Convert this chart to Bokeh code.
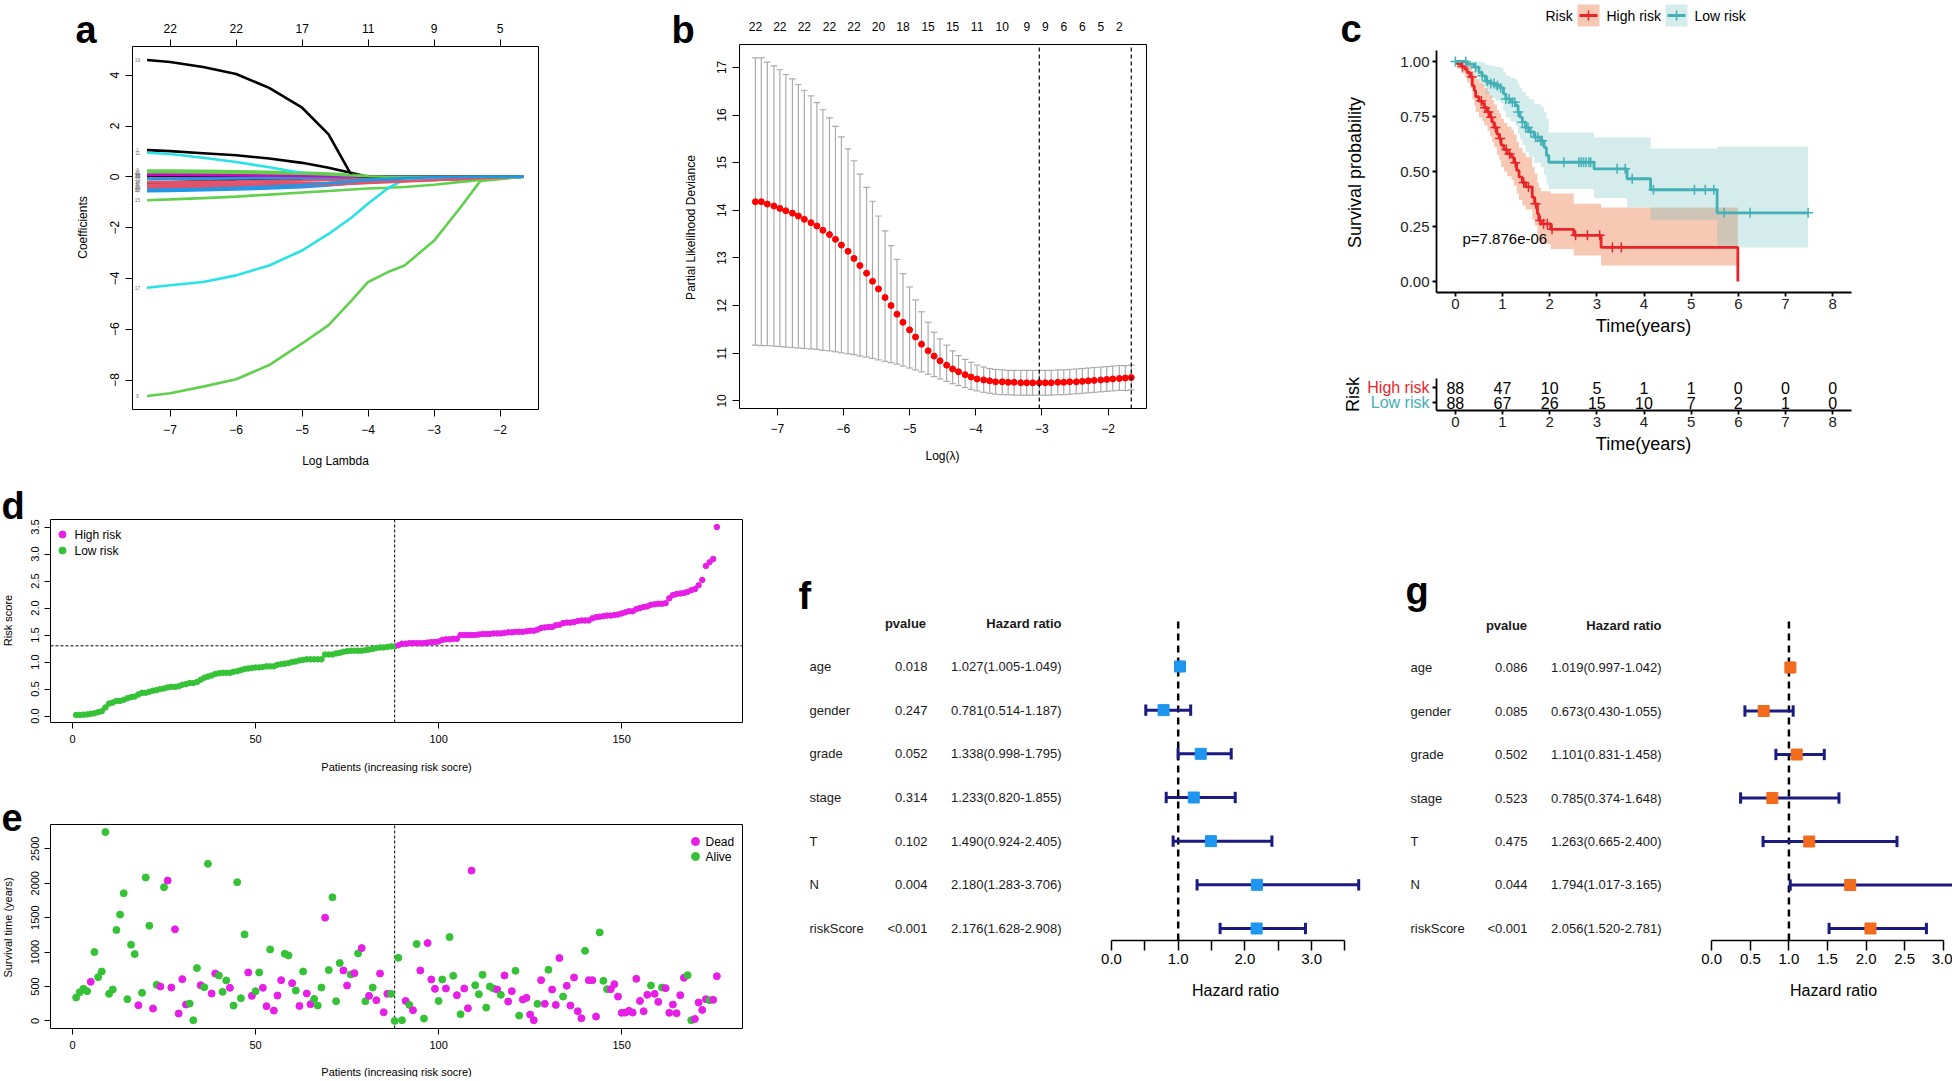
import math
import numpy as np
from bokeh.plotting import figure
from bokeh.layouts import row, column
from bokeh.models import (Range1d, LinearAxis, FixedTicker, Label,
                          PrintfTickFormatter, CustomJSTickFormatter)
from bokeh.core.properties import value
from bokeh.embed import file_html
from bokeh.resources import INLINE

FONT = "Liberation Sans"

# ======================= DATA =======================
# (a) LASSO coefficient paths (log lambda grid, one list per variable)
a_loglam = [-7.35, -7.0, -6.5, -6.0, -5.5, -5.0, -4.6, -4.25, -4.0, -3.7, -3.45, -3.0, -2.6, -2.3, -1.64]
coef_v01 = [1.05, 1.01, 0.93, 0.85, 0.72, 0.55, 0.36, 0.15, 0.0, -0.05, -0.06, -0.05, -0.03, -0.02, 0.0]
coef_v02 = [-0.38, -0.37, -0.36, -0.34, -0.32, -0.29, -0.26, -0.23, -0.20, -0.17, -0.14, -0.10, -0.07, -0.05, 0.0]
coef_v03 = [0.25, 0.25, 0.24, 0.22, 0.20, 0.17, 0.13, 0.08, 0.03, 0.01, 0.0, 0.0, 0.0, 0.0, 0.0]
coef_v04 = [-0.57, -0.56, -0.53, -0.50, -0.46, -0.41, -0.34, -0.26, -0.20, -0.15, -0.11, -0.06, -0.03, -0.02, 0.0]
coef_v05 = [0.05, 0.05, 0.04, 0.03, 0.02, 0.01, 0.0, 0.0, 0.0, 0.0, 0.0, 0.0, 0.0, 0.0, 0.0]
coef_v06 = [0.12, 0.11, 0.10, 0.09, 0.07, 0.05, 0.03, 0.01, 0.0, 0.0, 0.0, 0.0, 0.0, 0.0, 0.0]
coef_v07 = [-0.25, -0.22, -0.17, -0.12, -0.09, -0.07, -0.06, -0.07, -0.08, -0.09, -0.10, -0.10, -0.08, -0.05, 0.0]
coef_v08 = [-0.30, -0.29, -0.28, -0.27, -0.26, -0.25, -0.24, -0.22, -0.20, -0.18, -0.16, -0.12, -0.08, -0.05, 0.0]
coef_v09 = [-8.63, -8.52, -8.26, -7.97, -7.41, -6.56, -5.84, -4.86, -4.14, -3.75, -3.49, -2.51, -1.20, -0.16, 0.0]
coef_v10 = [-0.45, -0.44, -0.42, -0.40, -0.37, -0.34, -0.30, -0.26, -0.22, -0.18, -0.14, -0.08, -0.04, -0.02, 0.0]
coef_v11 = [0.95, 0.90, 0.75, 0.58, 0.38, 0.15, 0.04, 0.0, 0.0, 0.0, 0.0, 0.0, 0.0, 0.0, 0.0]
coef_v12 = [0.02, 0.02, 0.02, 0.01, 0.01, 0.0, 0.0, 0.0, 0.0, 0.0, 0.0, 0.0, 0.0, 0.0, 0.0]
coef_v13 = [0.03, 0.03, 0.02, 0.02, 0.01, 0.0, 0.0, 0.0, 0.0, 0.0, 0.0, 0.0, 0.0, 0.0, 0.0]
coef_v14 = [-0.20, -0.20, -0.19, -0.18, -0.16, -0.14, -0.12, -0.10, -0.08, -0.06, -0.04, -0.02, 0.0, 0.0, 0.0]
coef_v15 = [-0.92, -0.89, -0.84, -0.78, -0.70, -0.62, -0.56, -0.50, -0.46, -0.43, -0.40, -0.31, -0.20, -0.12, 0.0]
coef_v16 = [-0.08, -0.08, -0.07, -0.06, -0.05, -0.04, -0.03, -0.02, -0.01, 0.0, 0.0, 0.0, 0.0, 0.0, 0.0]
coef_v17 = [-4.37, -4.27, -4.14, -3.88, -3.49, -2.90, -2.25, -1.60, -1.05, -0.45, -0.10, -0.06, -0.04, -0.03, 0.0]
coef_v18 = [0.07, 0.07, 0.06, 0.05, 0.04, 0.03, 0.02, 0.01, 0.0, 0.0, 0.0, 0.0, 0.0, 0.0, 0.0]
coef_v19 = [4.60, 4.52, 4.32, 4.05, 3.50, 2.72, 1.67, 0.05, 0.0, 0.0, 0.0, 0.0, 0.0, 0.0, 0.0]
coef_v20 = [-0.42, -0.41, -0.40, -0.38, -0.36, -0.33, -0.30, -0.27, -0.24, -0.21, -0.18, -0.13, -0.08, -0.05, 0.0]
coef_v21 = [0.18, 0.18, 0.17, 0.16, 0.14, 0.12, 0.09, 0.05, 0.02, 0.0, 0.0, 0.0, 0.0, 0.0, 0.0]
coef_v22 = [-0.52, -0.50, -0.47, -0.43, -0.38, -0.32, -0.25, -0.18, -0.12, -0.08, -0.05, -0.02, -0.01, 0.0, 0.0]
a_paths = [coef_v01, coef_v02, coef_v03, coef_v04, coef_v05, coef_v06, coef_v07, coef_v08,
           coef_v09, coef_v10, coef_v11, coef_v12, coef_v13, coef_v14, coef_v15, coef_v16,
           coef_v17, coef_v18, coef_v19, coef_v20, coef_v21, coef_v22]
a_top_ticks = [-7, -6, -5, -4, -3, -2]
a_top_labels = ["22", "22", "17", "11", "9", "5"]
a_bottom_ticks = [-7, -6, -5, -4, -3, -2]
a_left_ticks = [-8, -6, -4, -2, 0, 2, 4]

# (b) cross-validation curve
b_loglam = [-7.33, -7.24, -7.15, -7.05, -6.96, -6.87, -6.77, -6.68, -6.59, -6.49,
            -6.40, -6.31, -6.21, -6.12, -6.03, -5.93, -5.84, -5.75, -5.65, -5.56,
            -5.47, -5.37, -5.28, -5.19, -5.10, -5.00, -4.91, -4.82, -4.72, -4.63,
            -4.54, -4.44, -4.35, -4.26, -4.16, -4.07, -3.98, -3.88, -3.79, -3.70,
            -3.60, -3.51, -3.42, -3.32, -3.23, -3.14, -3.04, -2.95, -2.86, -2.76,
            -2.67, -2.58, -2.48, -2.39, -2.30, -2.21, -2.11, -2.02, -1.93, -1.83,
            -1.74, -1.65]
b_cvm = [14.18, 14.18, 14.13, 14.09, 14.04, 13.99, 13.94, 13.88, 13.81, 13.74,
         13.67, 13.58, 13.49, 13.39, 13.27, 13.14, 12.99, 12.84, 12.68, 12.51,
         12.35, 12.17, 12.00, 11.82, 11.65, 11.49, 11.34, 11.19, 11.05, 10.94,
         10.84, 10.75, 10.67, 10.61, 10.55, 10.50, 10.46, 10.44, 10.42, 10.40,
         10.40, 10.39, 10.39, 10.38, 10.38, 10.38, 10.38, 10.38, 10.38, 10.39,
         10.39, 10.40, 10.40, 10.41, 10.42, 10.43, 10.44, 10.45, 10.46, 10.47,
         10.48, 10.49]
b_cvup = [17.20, 17.20, 17.11, 17.03, 16.95, 16.85, 16.76, 16.64, 16.52, 16.40,
          16.26, 16.11, 15.94, 15.76, 15.54, 15.29, 15.04, 14.76, 14.48, 14.19,
          13.88, 13.57, 13.26, 12.97, 12.67, 12.39, 12.12, 11.87, 11.65, 11.44,
          11.30, 11.17, 11.05, 10.95, 10.87, 10.81, 10.75, 10.71, 10.68, 10.66,
          10.65, 10.64, 10.64, 10.64, 10.64, 10.64, 10.64, 10.64, 10.64, 10.65,
          10.65, 10.66, 10.67, 10.68, 10.69, 10.70, 10.71, 10.72, 10.73, 10.74,
          10.74, 10.75]
b_cvlo = [11.17, 11.16, 11.16, 11.15, 11.14, 11.13, 11.12, 11.11, 11.10, 11.09,
          11.08, 11.06, 11.05, 11.03, 11.01, 10.99, 10.97, 10.94, 10.92, 10.89,
          10.86, 10.83, 10.80, 10.77, 10.73, 10.69, 10.65, 10.61, 10.56, 10.51,
          10.46, 10.41, 10.36, 10.32, 10.28, 10.24, 10.21, 10.18, 10.16, 10.14,
          10.13, 10.13, 10.12, 10.12, 10.12, 10.12, 10.12, 10.12, 10.12, 10.13,
          10.13, 10.14, 10.15, 10.16, 10.17, 10.18, 10.19, 10.20, 10.21, 10.22,
          10.22, 10.23]
b_lambda_min = -3.04
b_lambda_1se = -1.65
b_top_index = [0, 4, 8, 12, 16, 20, 24, 28, 32, 36, 40, 44, 47, 50, 53, 56, 59]
b_top_labels = ["22", "22", "22", "22", "22", "20", "18", "15", "15", "11", "10", "9", "9", "6", "6", "5", "2"]
b_bottom_ticks = [-7, -6, -5, -4, -3, -2]
b_left_ticks = [10, 11, 12, 13, 14, 15, 16, 17]

# (c) Kaplan-Meier
hr_t = [0.0, 0.04, 0.13, 0.20, 0.25, 0.31, 0.36, 0.40, 0.43, 0.50, 0.57, 0.61, 0.68, 0.73, 0.78, 0.82,
        0.88, 0.93, 0.97, 1.03, 1.10, 1.19, 1.24, 1.30, 1.35, 1.42, 1.49, 1.63, 1.68, 1.74, 1.77, 1.82,
        2.02, 2.51, 3.09, 5.99]
hr_s = [1.0, 0.989, 0.977, 0.966, 0.95, 0.93, 0.89, 0.868, 0.84, 0.82, 0.81, 0.79, 0.77, 0.747, 0.724, 0.70,
        0.67, 0.65, 0.62, 0.60, 0.58, 0.565, 0.54, 0.505, 0.474, 0.45, 0.43, 0.383, 0.353, 0.308, 0.277, 0.262,
        0.237, 0.21, 0.155, 0.0]
hr_up = [1.0, 1.0, 1.0, 1.0, 0.997, 0.985, 0.957, 0.94, 0.92, 0.905, 0.895, 0.88, 0.862, 0.845, 0.825, 0.805,
         0.78, 0.765, 0.74, 0.72, 0.705, 0.69, 0.668, 0.635, 0.607, 0.585, 0.565, 0.52, 0.49, 0.45, 0.425, 0.41,
         0.40, 0.353, 0.336, 0.336]
hr_lo = [1.0, 0.967, 0.946, 0.93, 0.905, 0.878, 0.828, 0.80, 0.77, 0.745, 0.73, 0.71, 0.685, 0.66, 0.635, 0.61,
         0.575, 0.553, 0.52, 0.50, 0.478, 0.462, 0.436, 0.40, 0.37, 0.346, 0.327, 0.282, 0.255, 0.212, 0.185, 0.17,
         0.148, 0.118, 0.073, 0.073]
hr_cens = [0.15, 0.35, 0.55, 0.63, 0.70, 0.76, 0.85, 0.95, 1.08, 1.15, 1.27, 1.45, 1.55, 1.70, 1.80, 1.87,
           1.95, 2.05, 2.55, 2.80, 3.06, 3.33, 3.52]
lr_t = [0.0, 0.25, 0.40, 0.50, 0.57, 0.64, 0.75, 0.85, 0.96, 1.02, 1.07, 1.17, 1.28, 1.33, 1.37, 1.42,
        1.49, 1.56, 1.67, 1.81, 1.88, 1.93, 1.98, 2.94, 3.64, 4.14, 5.55, 7.48]
lr_s = [1.0, 0.988, 0.974, 0.95, 0.935, 0.91, 0.90, 0.89, 0.88, 0.853, 0.83, 0.815, 0.80, 0.77, 0.747, 0.724,
        0.70, 0.68, 0.656, 0.64, 0.61, 0.573, 0.542, 0.512, 0.467, 0.417, 0.312, 0.312]
lr_up = [1.0, 1.0, 1.0, 1.0, 0.995, 0.985, 0.98, 0.975, 0.97, 0.952, 0.935, 0.925, 0.915, 0.895, 0.878, 0.86,
         0.842, 0.828, 0.808, 0.795, 0.77, 0.74, 0.677, 0.655, 0.655, 0.604, 0.614, 0.614]
lr_lo = [1.0, 0.966, 0.94, 0.905, 0.885, 0.85, 0.835, 0.822, 0.81, 0.775, 0.745, 0.727, 0.708, 0.672, 0.647, 0.62,
         0.59, 0.567, 0.54, 0.52, 0.485, 0.445, 0.42, 0.38, 0.336, 0.28, 0.155, 0.155]
lr_cens = [0.0, 0.22, 0.43, 0.57, 0.68, 0.75, 0.82, 0.89, 0.96, 1.07, 1.14, 1.21, 1.26, 1.33, 1.42, 1.49,
           1.54, 1.60, 1.70, 1.75, 1.81, 1.84, 2.30, 2.62, 2.67, 2.72, 2.77, 2.83, 2.87, 3.43, 3.60, 3.75,
           4.20, 5.07, 5.30, 5.48, 5.70, 6.25, 7.48]
c_pvalue = "p=7.876e-06"
risk_times = [0, 1, 2, 3, 4, 5, 6, 7, 8]
risk_high_n = [88, 47, 10, 5, 1, 1, 0, 0, 0]
risk_low_n = [88, 67, 26, 15, 10, 7, 2, 1, 0]
c_x_ticks = [0, 1, 2, 3, 4, 5, 6, 7, 8]
c_y_ticks = [0.0, 0.25, 0.5, 0.75, 1.0]

# (d) risk score per patient (sorted)
d_risk = [0.02, 0.02, 0.025, 0.03, 0.04, 0.05, 0.07, 0.09, 0.16, 0.23,
          0.25, 0.28, 0.28, 0.30, 0.33, 0.35, 0.36, 0.40, 0.43, 0.43,
          0.45, 0.47, 0.48, 0.50, 0.51, 0.53, 0.54, 0.54, 0.55, 0.58,
          0.59, 0.61, 0.61, 0.63, 0.67, 0.71, 0.73, 0.75, 0.78, 0.79,
          0.80, 0.80, 0.80, 0.82, 0.83, 0.85, 0.87, 0.88, 0.89, 0.90,
          0.90, 0.91, 0.92, 0.92, 0.92, 0.95, 0.96, 0.97, 0.98, 1.00,
          1.01, 1.03, 1.04, 1.05, 1.05, 1.05, 1.05, 1.05, 1.14, 1.14,
          1.14, 1.16, 1.17, 1.19, 1.20, 1.21, 1.21, 1.21, 1.21, 1.22,
          1.23, 1.24, 1.26, 1.27, 1.27, 1.28, 1.29, 1.29,
          1.31, 1.34, 1.34, 1.35, 1.35, 1.35, 1.35, 1.35, 1.36, 1.37, 1.37, 1.38,
          1.41, 1.42, 1.42, 1.43, 1.43, 1.50, 1.50, 1.50, 1.50, 1.50,
          1.51, 1.52, 1.52, 1.52, 1.53, 1.53, 1.53, 1.54, 1.55, 1.55,
          1.56, 1.56, 1.56, 1.57, 1.58, 1.58, 1.60, 1.63, 1.64, 1.65,
          1.65, 1.68, 1.69, 1.72, 1.73, 1.73, 1.74, 1.76, 1.77, 1.77,
          1.77, 1.81, 1.83, 1.84, 1.85, 1.86, 1.86, 1.87, 1.88, 1.90,
          1.92, 1.94, 1.94, 1.98, 2.00, 2.02, 2.03, 2.06, 2.07, 2.08,
          2.08, 2.09, 2.18, 2.24, 2.26, 2.27, 2.28, 2.30, 2.33, 2.35,
          2.42, 2.52, 2.78, 2.85, 2.91, 3.50]
d_n_low = 88
d_cutoff = 1.30
d_x_ticks = [0, 50, 100, 150]
d_y_ticks = [0.0, 0.5, 1.0, 1.5, 2.0, 2.5, 3.0, 3.5]

# (e) survival time and status per patient
e_time = [340, 417, 466, 432, 568, 1000, 636, 718, 2743, 393,
          456, 1320, 1544, 1854, 316, 1107, 971, 228, 408, 2083,
          1383, 180, 524, 500, 1942, 2039, 485, 1330, 107, 607,
          238, 252, 10, 767, 519, 490, 2282, 398, 689, 660,
          422, 587, 481, 223, 2015, 330, 1257, 704, 364, 432,
          704, 481, 214, 1039, 150, 369, 592, 976, 951, 549,
          442, 218, 718, 398, 243, 320, 223, 485, 1500, 738,
          1796, 286, 840, 733, 515, 675, 694, 981, 1058, 286,
          364, 485, 301, 689, 126, 393, 393, 0, 917, 10,
          291, 233, 155, 1117, 733, 34, 1131, 602, 466, 291,
          602, 471, 1218, 655, 374, 97, 471, 184, 2184, 519,
          388, 670, 194, 500, 471, 456, 379, 660, 282, 432,
          728, 78, 311, 335, 92, 10, 248, 592, 248, 743,
          456, 233, 913, 354, 510, 223, 631, 141, 39, 1019,
          592, 592, 63, 1286, 583, 461, 461, 534, 354, 117,
          121, 146, 121, 612, 291, 141, 379, 515, 393, 277,
          485, 476, 117, 238, 112, 374, 626, 665, 10, 29,
          267, 160, 316, 301, 306, 650]
e_dead = [0, 0, 0, 0, 1, 0, 0, 0, 0, 0,
          0, 0, 0, 0, 0, 0, 0, 1, 0, 0,
          0, 1, 0, 1, 0, 1, 1, 1, 1, 1,
          1, 0, 0, 0, 1, 0, 0, 1, 1, 0,
          0, 0, 1, 0, 0, 0, 0, 1, 1, 0,
          0, 1, 1, 0, 1, 1, 1, 0, 0, 1,
          0, 1, 0, 1, 1, 0, 0, 0, 1, 0,
          0, 0, 0, 1, 1, 0, 1, 0, 1, 0,
          1, 0, 1, 1, 1, 1, 0, 0, 0, 0,
          1, 0, 1, 0, 1, 0, 1, 1, 1, 0,
          0, 1, 0, 0, 1, 0, 1, 1, 1, 0,
          0, 0, 0, 0, 0, 1, 0, 1, 1, 1,
          0, 0, 1, 1, 1, 1, 0, 1, 1, 0,
          1, 1, 1, 0, 1, 1, 1, 1, 1, 0,
          1, 1, 1, 0, 0, 0, 1, 1, 1, 1,
          1, 1, 1, 1, 1, 1, 1, 0, 1, 1,
          0, 1, 1, 1, 1, 1, 1, 0, 0, 1,
          1, 1, 1, 0, 1, 1]
e_y_ticks = [0, 500, 1000, 1500, 2000, 2500]

# (f) univariate Cox, (g) multivariate Cox
cox_vars = ["age", "gender", "grade", "stage", "T", "N", "riskScore"]
f_p = ["0.018", "0.247", "0.052", "0.314", "0.102", "0.004", "<0.001"]
f_hr = [1.027, 0.781, 1.338, 1.233, 1.490, 2.180, 2.176]
f_lo = [1.005, 0.514, 0.998, 0.820, 0.924, 1.283, 1.628]
f_hi = [1.049, 1.187, 1.795, 1.855, 2.405, 3.706, 2.908]
g_p = ["0.086", "0.085", "0.502", "0.523", "0.475", "0.044", "<0.001"]
g_hr = [1.019, 0.673, 1.101, 0.785, 1.263, 1.794, 2.056]
g_lo = [0.997, 0.430, 0.831, 0.374, 0.665, 1.017, 1.520]
g_hi = [1.042, 1.055, 1.458, 1.648, 2.400, 3.165, 2.781]
f_axis_ticks = [0.0, 0.5, 1.0, 1.5, 2.0, 2.5, 3.0, 3.5]
g_axis_ticks = [0.0, 0.5, 1.0, 1.5, 2.0, 2.5, 3.0]

# ======================= STYLE / GEOMETRY =======================
R_PAL = ["#000000", "#DF536B", "#61D04F", "#2297E6", "#28E2E5", "#CD0BBC"]
RED = "#E8262A"
TEAL = "#43B0B5"
MAG = "#E61EE6"
GRN = "#36C236"
NAVY = "#1A1A80"
BLUE_SQ = "#1E96F0"
ORANGE_SQ = "#F26B1D"

# page-pixel geometry: figure box (x, y, w, h), plot box (left, top, right, bottom) and its data ranges
GEO = {
    "a": dict(fig=(0, 0, 608, 478), frame=(132, 46, 538, 409), xr=(-7.57, -1.42), yr=(-9.16, 5.13)),
    "b": dict(fig=(608, 0, 700, 478), frame=(739, 44, 1146, 408), xr=(-7.57, -1.42), yr=(9.84, 17.48)),
    "c1": dict(fig=(1308, 0, 644, 353), frame=(1436, 50, 1851, 292), xr=(-0.4, 8.4), yr=(-0.05, 1.05)),
    "c2": dict(fig=(1308, 353, 644, 125), frame=(1436, 378, 1851, 410), xr=(-0.4, 8.4), yr=(0.4667, 2.6)),
    "d": dict(fig=(0, 478, 748, 300), frame=(50, 519, 742, 722), xr=(-6, 183), yr=(-0.12, 3.64)),
    "e": dict(fig=(0, 778, 748, 299), frame=(50, 824, 742, 1028), xr=(-6, 183), yr=(-110, 2853)),
    "f": dict(fig=(748, 478, 614, 599), frame=(795, 540, 1362, 940), xr=(-4.7376, 3.7631), yr=(0.725, 9.885)),
    "g": dict(fig=(1362, 478, 590, 599), frame=(1395, 540, 1948, 940), xr=(-4.096, 3.067), yr=(0.724, 9.92)),
}


def to_data(g, px, py):
    fl, ft, fr, fb = g["frame"]
    x0, x1 = g["xr"]
    y0, y1 = g["yr"]
    return (x0 + (px - fl) / (fr - fl) * (x1 - x0),
            y0 + (fb - py) / (fb - ft) * (y1 - y0))


def mkfig(g, outline=True):
    fx, fy, w, h = g["fig"]
    xa, _ = to_data(g, fx, 0)
    xb, _ = to_data(g, fx + w, 0)
    _, ya = to_data(g, 0, fy + h)
    _, yb = to_data(g, 0, fy)
    p = figure(width=w, height=h, x_range=Range1d(xa, xb), y_range=Range1d(ya, yb),
               output_backend="svg", toolbar_location=None, title=None,
               x_axis_location=None, y_axis_location=None,
               min_border_left=0, min_border_right=0, min_border_top=0, min_border_bottom=0)
    p.grid.visible = False
    p.outline_line_color = None
    p.background_fill_color = "white"
    p.border_fill_color = "white"
    if outline:
        x0, x1 = g["xr"]
        y0, y1 = g["yr"]
        p.quad(left=[x0], right=[x1], bottom=[y0], top=[y1], fill_color=None,
               line_color="black", line_width=1)
    return p


def txt(p, g, px, py, text, size, color="black", bold=False, align="center",
        baseline="middle", angle=0.0):
    x, y = to_data(g, px, py)
    p.add_layout(Label(x=x, y=y, text=text, text_font=FONT, text_font_size=f"{size}px",
                       text_color=color, text_font_style="bold" if bold else "normal",
                       text_align=align, text_baseline=baseline, angle=angle))


def add_axis(p, g, loc, ticks, formatter=None, size=12, tick_out=6, standoff=6,
             orient="horizontal", line_color=None, line_width=1, bounds=None,
             label_color="black"):
    ax = LinearAxis(ticker=FixedTicker(ticks=list(ticks)))
    if formatter is not None:
        ax.formatter = formatter
    fixed = {"below": g["yr"][0], "above": g["yr"][1], "left": g["xr"][0], "right": g["xr"][1]}[loc]
    ax.fixed_location = fixed
    ax.major_tick_out = tick_out
    ax.major_tick_in = 0
    ax.major_tick_line_color = "black" if tick_out > 0 else None
    ax.major_tick_line_width = line_width
    ax.minor_tick_line_color = None
    ax.axis_line_color = line_color
    ax.axis_line_width = line_width
    ax.major_label_text_font = FONT
    ax.major_label_text_font_size = f"{size}px"
    ax.major_label_text_color = label_color
    ax.major_label_standoff = standoff
    ax.major_label_orientation = orient
    if bounds is not None:
        ax.bounds = bounds
    else:
        ax.bounds = g["xr"] if loc in ("below", "above") else g["yr"]
    p.add_layout(ax, loc)
    return ax


def letter(p, g, px, py, ch):
    txt(p, g, px, py, ch, 38, bold=True, align="left", baseline="alphabetic")


def vline(p, g, x, **kw):
    p.segment(x0=[x], y0=[g["yr"][0]], x1=[x], y1=[g["yr"][1]], **kw)


def hline(p, g, y, **kw):
    p.segment(x0=[g["xr"][0]], y0=[y], x1=[g["xr"][1]], y1=[y], **kw)


# ======================= PANEL A =======================
ga = GEO["a"]
pa = mkfig(ga)
add_axis(pa, ga, "below", a_bottom_ticks, size=12, tick_out=7, standoff=8)
add_axis(pa, ga, "left", a_left_ticks, size=12, tick_out=7, standoff=6, orient="vertical")
add_axis(pa, ga, "above", a_top_ticks, size=12, tick_out=7, standoff=7,
         formatter=CustomJSTickFormatter(args=dict(labs=a_top_labels), code="return labs[index];"))
pa.multi_line(xs=[a_loglam] * len(a_paths), ys=a_paths,
              line_color=[R_PAL[k % 6] for k in range(len(a_paths))], line_width=2.6)
lab_x = to_data(ga, 137, 0)[0]
pa.text(x=[lab_x] * len(a_paths), y=[path[0] for path in a_paths],
        text=[str(k + 1) for k in range(len(a_paths))], text_font=value(FONT),
        text_font_size="5px", text_color="#777777", text_align="center", text_baseline="middle")
txt(pa, ga, 335, 460, "Log Lambda", 12)
txt(pa, ga, 82, 227, "Coefficients", 12, angle=math.pi / 2)
letter(pa, ga, 75, 29, "a")

# ======================= PANEL B =======================
gb = GEO["b"]
pb = mkfig(gb)
add_axis(pb, gb, "below", b_bottom_ticks, size=12, tick_out=7, standoff=8)
add_axis(pb, gb, "left", b_left_ticks, size=12, tick_out=7, standoff=6, orient="vertical")
add_axis(pb, gb, "above", [b_loglam[i] for i in b_top_index], size=12, tick_out=0, standoff=14,
         formatter=CustomJSTickFormatter(args=dict(labs=b_top_labels), code="return labs[index];"))
bx = np.array(b_loglam)
cap = 0.05
pb.segment(x0=bx, y0=b_cvlo, x1=bx, y1=b_cvup, line_color="#ABABAB", line_width=1.2)
pb.segment(x0=bx - cap, y0=b_cvup, x1=bx + cap, y1=b_cvup, line_color="#ABABAB", line_width=1.2)
pb.segment(x0=bx - cap, y0=b_cvlo, x1=bx + cap, y1=b_cvlo, line_color="#ABABAB", line_width=1.2)
pb.scatter(x=b_loglam, y=b_cvm, size=6, fill_color="#FF0000", line_color="#FF0000")
for loc in (b_lambda_min, b_lambda_1se):
    vline(pb, gb, loc, line_color="black", line_dash="4 3", line_width=1.2)
txt(pb, gb, 942, 455, "Log(\u03bb)", 12)
txt(pb, gb, 690, 227, "Partial Likelihood Deviance", 12, angle=math.pi / 2)
letter(pb, gb, 671, 29, "b")

# ======================= PANEL C =======================
gc1 = GEO["c1"]
pc1 = mkfig(gc1, outline=False)


def surv_at(t_list, s_list, times):
    idx = np.searchsorted(np.array(t_list), np.array(times), side="right") - 1
    return [s_list[i] for i in idx]


pc1.varea_step(x=hr_t, y1=hr_lo, y2=hr_up, step_mode="after", fill_color="#E44805", fill_alpha=0.3)
pc1.varea_step(x=lr_t, y1=lr_lo, y2=lr_up, step_mode="after", fill_color="#70C0C0", fill_alpha=0.3)
pc1.step(x=hr_t, y=hr_s, mode="after", line_color=RED, line_width=2.8)
pc1.step(x=lr_t, y=lr_s, mode="after", line_color=TEAL, line_width=2.8)
pc1.scatter(x=hr_cens, y=surv_at(hr_t, hr_s, hr_cens), marker="cross", size=10,
            line_color=RED, line_width=1.5)
pc1.scatter(x=lr_cens, y=surv_at(lr_t, lr_s, lr_cens), marker="cross", size=10,
            line_color=TEAL, line_width=1.5)
add_axis(pc1, gc1, "below", c_x_ticks, size=15, tick_out=4, standoff=2, line_color="black",
         line_width=1.8, label_color="#222222")
add_axis(pc1, gc1, "left", c_y_ticks, formatter=PrintfTickFormatter(format="%.2f"), size=15,
         tick_out=4, standoff=3, line_color="black", line_width=1.8, label_color="#222222")
txt(pc1, gc1, 1462, 238, c_pvalue, 15, align="left")
txt(pc1, gc1, 1354, 172, "Survival probability", 18, angle=math.pi / 2)
txt(pc1, gc1, 1643, 325, "Time(years)", 18)
letter(pc1, gc1, 1340, 28, "c")
# legend (top)
txt(pc1, gc1, 1545, 15, "Risk", 14, align="left")
for (kl, kr, fillc, linec, name) in [(1577, 1599, "#F7C8B4", RED, "High risk"),
                                      (1665, 1687, "#D4ECEC", TEAL, "Low risk")]:
    l0, t0 = to_data(gc1, kl, 4)
    r0, b0 = to_data(gc1, kr, 26)
    pc1.quad(left=[l0], right=[r0], top=[t0], bottom=[b0], fill_color=fillc, line_color=None)
    xa, ym = to_data(gc1, kl + 2, 15)
    xb, _ = to_data(gc1, kr - 2, 15)
    pc1.segment(x0=[xa], y0=[ym], x1=[xb], y1=[ym], line_color=linec, line_width=2.8)
    pc1.scatter(x=[(xa + xb) / 2], y=[ym], marker="cross", size=10, line_color=linec, line_width=1.5)
    txt(pc1, gc1, kr + 7, 15, name, 14, align="left")

gc2 = GEO["c2"]
pc2 = mkfig(gc2, outline=False)
pc2.text(x=risk_times, y=[2] * len(risk_times), text=[str(n) for n in risk_high_n],
         text_font=value(FONT), text_font_size="16px", text_align="center", text_baseline="middle")
pc2.text(x=risk_times, y=[1] * len(risk_times), text=[str(n) for n in risk_low_n],
         text_font=value(FONT), text_font_size="16px", text_align="center", text_baseline="middle")
add_axis(pc2, gc2, "below", c_x_ticks, size=15, tick_out=4, standoff=2, line_color="black",
         line_width=1.8, label_color="#222222")
add_axis(pc2, gc2, "left", [1, 2], formatter=CustomJSTickFormatter(code="return '';"), size=15,
         tick_out=4, standoff=2, line_color="black", line_width=1.8)
txt(pc2, gc2, 1429, 387, "High risk", 16, color=RED, align="right")
txt(pc2, gc2, 1429, 402, "Low risk", 16, color=TEAL, align="right")
txt(pc2, gc2, 1352, 394, "Risk", 18, angle=math.pi / 2)
txt(pc2, gc2, 1643, 443, "Time(years)", 18)

# ======================= PANEL D =======================
gd = GEO["d"]
pd_ = mkfig(gd)
patients = list(range(1, len(d_risk) + 1))
vline(pd_, gd, d_n_low, line_color="black", line_dash="3 2", line_width=1)
hline(pd_, gd, d_cutoff, line_color="black", line_dash="3 2", line_width=1)
pd_.scatter(x=patients, y=d_risk, size=5.5,
            color=[GRN if i < d_n_low else MAG for i in range(len(d_risk))])
add_axis(pd_, gd, "below", d_x_ticks, size=11, tick_out=6, standoff=6)
add_axis(pd_, gd, "left", d_y_ticks, formatter=PrintfTickFormatter(format="%.1f"), size=11,
         tick_out=6, standoff=5, orient="vertical")
lx, ly1 = to_data(gd, 62, 534)
_, ly2 = to_data(gd, 62, 550)
pd_.scatter(x=[lx, lx], y=[ly1, ly2], size=7, color=[MAG, GRN])
tx, _ = to_data(gd, 74, 534)
pd_.text(x=[tx, tx], y=[ly1, ly2], text=["High risk", "Low risk"], text_font=value(FONT),
         text_font_size="12px", text_align="left", text_baseline="middle")
txt(pd_, gd, 396, 766, "Patients (increasing risk socre)", 11)
txt(pd_, gd, 7, 620, "Risk score", 11, angle=math.pi / 2)
letter(pd_, gd, 1, 505, "d")

# ======================= PANEL E =======================
ge = GEO["e"]
pe = mkfig(ge)
vline(pe, ge, d_n_low, line_color="black", line_dash="3 2", line_width=1)
pe.scatter(x=patients, y=e_time, size=7, color=[MAG if s == 1 else GRN for s in e_dead])
add_axis(pe, ge, "below", d_x_ticks, size=11, tick_out=6, standoff=6)
add_axis(pe, ge, "left", e_y_ticks, size=11, tick_out=6, standoff=5, orient="vertical")
lx, ly1 = to_data(ge, 695, 841)
_, ly2 = to_data(ge, 695, 856)
pe.scatter(x=[lx, lx], y=[ly1, ly2], size=8, color=[MAG, GRN])
tx, _ = to_data(ge, 705, 841)
pe.text(x=[tx, tx], y=[ly1, ly2], text=["Dead", "Alive"], text_font=value(FONT),
        text_font_size="12px", text_align="left", text_baseline="middle")
txt(pe, ge, 396, 1071, "Patients (increasing risk socre)", 11)
txt(pe, ge, 7, 927, "Survival time (years)", 11, angle=math.pi / 2)
letter(pe, ge, 1, 817, "e")


# ======================= PANELS F / G =======================
def forest(g, pvals, hr, lo, hi, sq_color, name_px, p_px, hr_px, ph_px, head_py, dash_top_py,
           axis_ticks, axis_fmt, axis_bounds, title_px, let, let_px, let_py):
    p = mkfig(g, outline=False)
    ys = [len(cox_vars) - i for i in range(len(cox_vars))]
    y_axis_bottom = g["yr"][0]
    _, y_dash_top = to_data(g, 0, dash_top_py)
    p.segment(x0=[1.0], y0=[y_axis_bottom], x1=[1.0], y1=[y_dash_top], line_color="black",
              line_width=2.5, line_dash="7 5")
    ch = 0.13
    yv = np.array(ys, dtype=float)
    p.segment(x0=lo, y0=ys, x1=hi, y1=ys, line_color=NAVY, line_width=3)
    p.segment(x0=lo, y0=yv - ch, x1=lo, y1=yv + ch, line_color=NAVY, line_width=3)
    p.segment(x0=hi, y0=yv - ch, x1=hi, y1=yv + ch, line_color=NAVY, line_width=3)
    p.scatter(x=hr, y=ys, marker="square", size=11, fill_color=sq_color, line_color=sq_color)
    xn, _ = to_data(g, name_px, 0)
    xp, _ = to_data(g, p_px, 0)
    xh, _ = to_data(g, hr_px, 0)
    xph, _ = to_data(g, ph_px, 0)
    _, yhead = to_data(g, 0, head_py)
    hr_txt = [f"{h:.3f}({a:.3f}-{b:.3f})" for h, a, b in zip(hr, lo, hi)]
    common = dict(text_font=value(FONT), text_font_size="13px", text_baseline="middle",
                  text_color="#1a1a1a")
    p.text(x=[xn] * len(ys), y=ys, text=cox_vars, text_align="left", **common)
    p.text(x=[xp] * len(ys), y=ys, text=pvals, text_align="right", **common)
    p.text(x=[xh] * len(ys), y=ys, text=hr_txt, text_align="right", **common)
    p.text(x=[xph], y=[yhead], text=["pvalue"], text_align="center", text_font_style="bold",
           **common)
    p.text(x=[xh], y=[yhead], text=["Hazard ratio"], text_align="right", text_font_style="bold",
           **common)
    add_axis(p, g, "below", axis_ticks, formatter=axis_fmt, size=15, tick_out=10, standoff=3,
             line_color="black", line_width=1.5, bounds=axis_bounds)
    txt(p, g, title_px, 990, "Hazard ratio", 16)
    letter(p, g, let_px, let_py, let)
    return p


pf = forest(GEO["f"], f_p, f_hr, f_lo, f_hi, BLUE_SQ, 809, 927, 1061, 905, 623, 617,
            f_axis_ticks,
            CustomJSTickFormatter(code="return (Math.abs(tick - Math.round(tick)) < 1e-6) ? tick.toFixed(1) : '';"),
            (0, 3.5), 1235, "f", 798, 595)
pg = forest(GEO["g"], g_p, g_hr, g_lo, g_hi, ORANGE_SQ, 1410, 1527, 1661, 1506, 625, 620,
            g_axis_ticks, PrintfTickFormatter(format="%.1f"), (0, 3.0), 1833, "g", 1405, 590)

layout = column(row(pa, pb, column(pc1, pc2)), row(column(pd_, pe), pf, pg))
open("out.html", "w").write(file_html(layout, INLINE))
